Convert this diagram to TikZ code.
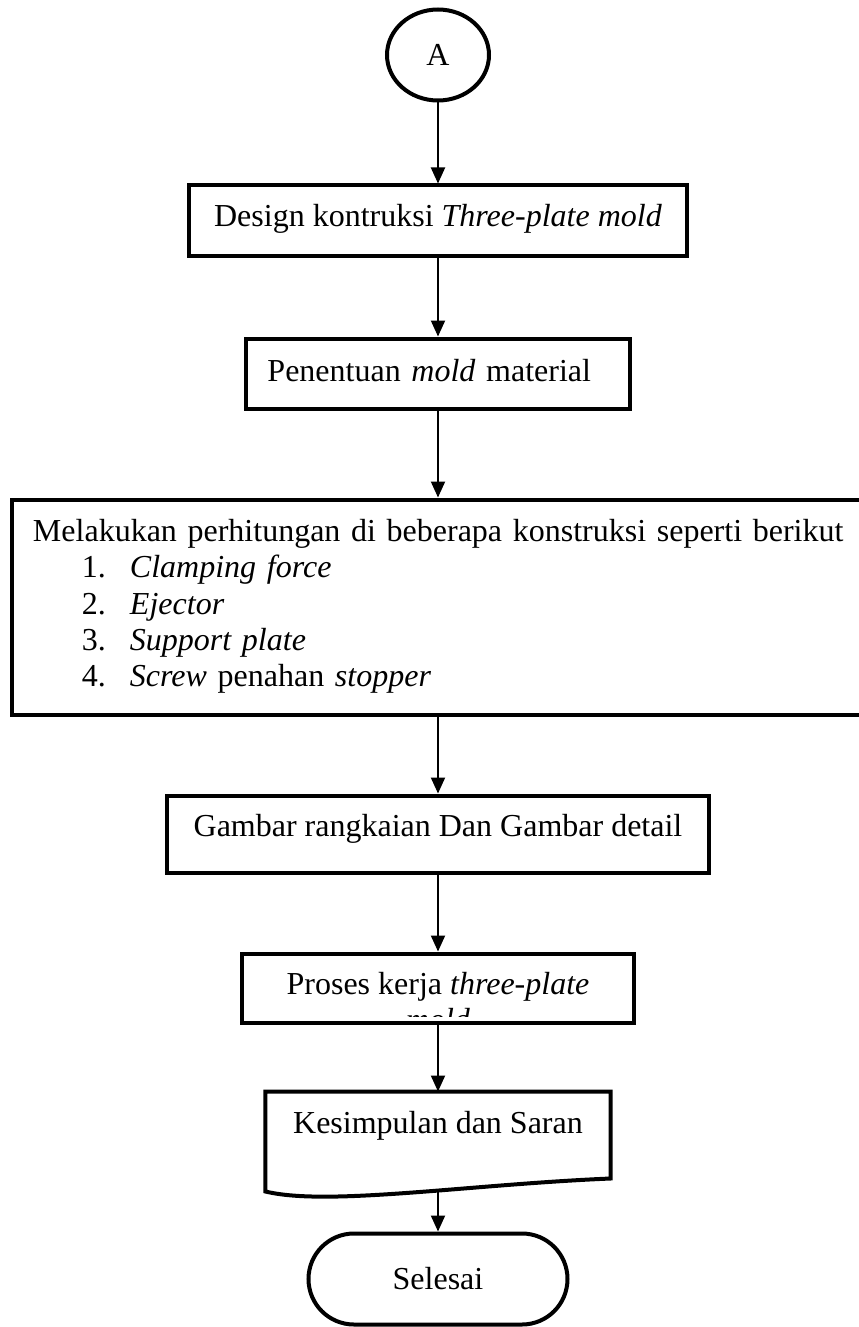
\documentclass[tikz,border=0pt]{standalone}
\usepackage{fontspec}
\setmainfont{Liberation Serif}
\usetikzlibrary{positioning,shapes.geometric,arrows.meta}
\begin{document}
\begin{tikzpicture}[font=\fontsize{24}{27.2}\selectfont, box/.style = {draw, line width=3pt, inner sep=0pt}, arr/.style = {-{Triangle[width=10.5pt,length=12pt]}, line width=1.5pt}]
    \useasboundingbox (-328.5pt,41.25pt) rectangle (315pt,-954pt);
    \node[box, ellipse, minimum width=76.5pt, minimum height=68.25pt] (A) at (0,0) {A};
    \node[box, minimum width=373.5pt, text height=30.75pt, text depth=21.75pt] (design) [below=60.75pt of A] {Design kontruksi \textit{Three-plate mold}};
    \node[box, text width=255.75pt, inner xsep=15.75pt, align=left, text height=32.25pt, text depth=20.25pt] (material) [below=59.25pt of design] {Penentuan \textit{mold} material};
    \node[box, text width=630pt, inner xsep=15.75pt, align=left, text height=31.5pt, text depth=129.75pt] (calc) [below=65.25pt of material, xshift=11.25pt] {Melakukan perhitungan di beberapa konstruksi seperti berikut\\
        \hspace*{36.75pt}\makebox[36pt][l]{1.}\textit{Clamping force}\\
        \hspace*{36.75pt}\makebox[36pt][l]{2.}\textit{Ejector}\\
        \hspace*{36.75pt}\makebox[36pt][l]{3.}\textit{Support plate}\\
        \hspace*{36.75pt}\makebox[36pt][l]{4.}\textit{Screw} penahan \textit{stopper}};
    \node[box, minimum width=405.75pt, text height=30.75pt, text depth=27pt] (gambar) [below=57.75pt of calc, xshift=-11.25pt] {Gambar rangkaian Dan Gambar detail};
    \node[box, minimum width=293.25pt, text height=30.75pt, text depth=21pt] (proses) [below=57.75pt of gambar] {Proses kerja \textit{three-plate}};
    %clipped second line
    \begin{scope}
        \clip ([shift={(3pt,6pt)}]proses.south west) rectangle ([shift={(-3pt,-3pt)}]proses.north east);
        \node[anchor=base, inner sep=0pt] (mold) at ([yshift=-27pt]proses.base) {\textit{mold}};
    \end{scope}
    \node[inner sep=0pt, outer sep=0pt, minimum width=258.75pt, text height=31.5pt, text depth=43.5pt] (kes) [below=50.25pt of proses] {Kesimpulan dan Saran};
    \draw[line width=3pt] (kes.south west) -- (kes.north west) -- (kes.north east) -- ([yshift=9.75pt]kes.south east) .. controls +(-107.25pt,-4.5pt) and +(46.5pt,-11.25pt) .. (kes.south west) -- cycle;
    \node[box, rounded corners=34.125pt, minimum width=194.25pt, text height=42pt, text depth=26.25pt] (sel) [below=30pt of kes] {Selesai};
    \draw[arr] (A) -- (design);
    \draw[arr] (design) -- (material);
    \draw[arr] (material) -- (material |- calc.north);
    \draw[arr] (gambar |- calc.south) -- (gambar);
    \draw[arr] (gambar) -- (proses);
    \draw[arr] (proses) -- (kes);
    \draw[arr] (kes) -- (sel);
\end{tikzpicture}
\end{document}
